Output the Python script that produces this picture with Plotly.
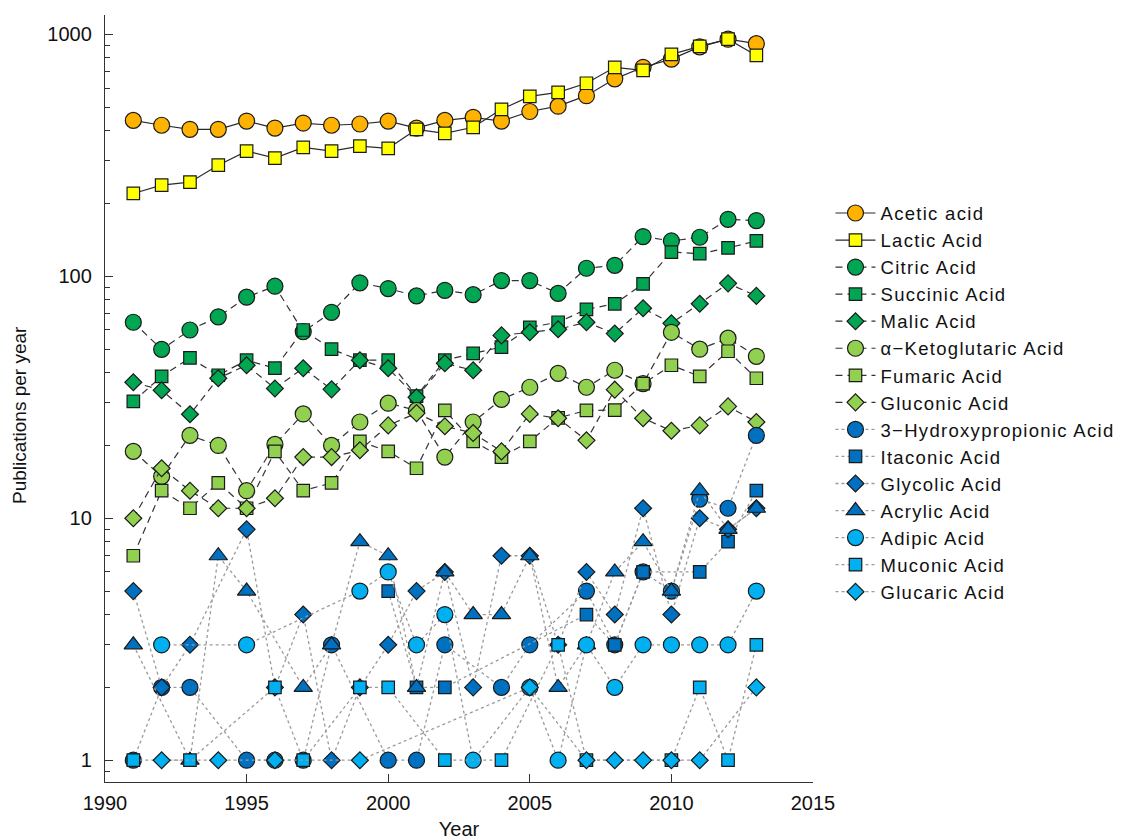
import plotly.graph_objects as go

years = list(range(1991, 2014))

# Publications per year (None = no publications that year)
acetic = [441, 421, 405, 405, 438, 410, 430, 421, 426, 438, 410, 441, 454, 438, 480, 505, 558, 655, 731, 790, 888, 955, 915]
lactic = [220, 238, 245, 288, 329, 308, 341, 329, 345, 338, 405, 390, 413, 490, 554, 576, 628, 731, 710, 827, 892, 955, 818]
citric = [64.6, 49.9, 60, 68, 82, 91, 59, 71, 94, 89, 83, 87.5, 84, 96, 96, 85, 108, 111, 146, 140, 145, 172, 170]
succinic = [30.4, 38.6, 46, 39, 45, 41.7, 60, 50, 45, 45, 32, 45, 48, 51, 61.5, 64.6, 73, 77, 93, 126, 124, 131, 140]
malic = [36.5, 33.8, 26.9, 37.9, 42.9, 34.4, 41.7, 34.1, 45, 41.7, 31.6, 43.7, 40.9, 57, 58.7, 60.4, 64.6, 58, 73.8, 64, 77, 93.5, 83]
ketoglutaric = [18.9, 14.9, 22, 20, 13, 20.2, 27, 20, 25, 29.9, 27.9, 17.9, 25, 31, 34.8, 39.7, 34.8, 40.9, 36, 58.7, 50, 55.5, 46.7]
fumaric = [7, 13, 11, 14, 11, 18.9, 13, 14, 20.8, 18.9, 16.1, 27.9, 20.8, 17.9, 20.8, 26, 27.9, 28, 36, 42.9, 38.6, 49, 37.9]
gluconic = [10, 16.1, 13, 11, 11, 12.1, 17.9, 17.9, 19.1, 24.2, 27.2, 24, 22.5, 18.9, 27, 25.9, 21, 34, 25.9, 23, 24.2, 29, 25]
hydroxypropionic = [1, 2, 2, None, 1, 1, 1, 3, None, 1, 1, 3, None, 2, 3, None, 5, 3, 6, 5, 12, 11, 22]
itaconic = [None, None, None, None, None, None, None, None, None, 5, 2, 2, None, None, None, None, 4, 3, 6, None, 6, 8, 13]
glycolic = [5, 2, 3, None, 9, 2, 4, 1, 2, 3, 5, 6, 2, 7, 7, 3, 6, 4, 11, 4, 10, 9, 11]
acrylic = [3, None, 1, 7, 5, None, 2, 3, 8, 7, 2, 6, 4, 4, 7, 2, 3, 6, 8, 5, 13, 9, 11]
adipic = [None, 3, None, None, 3, None, None, None, 5, 6, 3, 4, 1, None, 2, 1, 3, 2, 3, 3, 3, 3, 5]
muconic = [1, None, 1, None, None, 2, 1, None, 2, 2, None, 1, None, 1, None, 3, 1, None, None, 1, 2, 1, 3]
glucaric = [None, 1, None, 1, None, 1, None, None, 1, None, None, None, None, None, 2, None, 1, 1, 1, 1, 1, None, 2]

ORANGE = "#FFB300"
YELLOW = "#FFFF00"
GREEN = "#00A651"
LIGHT_GREEN = "#92D050"
BLUE = "#0070C0"
LIGHT_BLUE = "#00B0F0"

SOLID = dict(color="#2b2b2b", width=1.2, dash="solid")
DASHED = dict(color="#333333", width=1.2, dash="7px,5px")
DOTTED = dict(color="#9a9a9a", width=1.3, dash="dot")

series = [
    ("Acetic acid", acetic, "circle", ORANGE, SOLID),
    ("Lactic Acid", lactic, "square", YELLOW, SOLID),
    ("Citric Acid", citric, "circle", GREEN, DASHED),
    ("Succinic Acid", succinic, "square", GREEN, DASHED),
    ("Malic Acid", malic, "diamond", GREEN, DASHED),
    ("\u03b1\u2212Ketoglutaric Acid", ketoglutaric, "circle", LIGHT_GREEN, DASHED),
    ("Fumaric Acid", fumaric, "square", LIGHT_GREEN, DASHED),
    ("Gluconic Acid", gluconic, "diamond", LIGHT_GREEN, DASHED),
    ("3\u2212Hydroxypropionic Acid", hydroxypropionic, "circle", BLUE, DOTTED),
    ("Itaconic Acid", itaconic, "square", BLUE, DOTTED),
    ("Glycolic Acid", glycolic, "diamond", BLUE, DOTTED),
    ("Acrylic Acid", acrylic, "triangle-up", BLUE, DOTTED),
    ("Adipic Acid", adipic, "circle", LIGHT_BLUE, DOTTED),
    ("Muconic Acid", muconic, "square", LIGHT_BLUE, DOTTED),
    ("Glucaric Acid", glucaric, "diamond", LIGHT_BLUE, DOTTED),
]

SIZES = {"circle": 16, "square": 12.5, "diamond": 13, "triangle-up": 16}

fig = go.Figure()
for name, values, symbol, color, line in series:
    xs = [y for y, v in zip(years, values) if v is not None]
    ys = [v for v in values if v is not None]
    fig.add_trace(go.Scatter(
        x=xs, y=ys, mode="lines+markers",
        name='<span style="letter-spacing:1.3px">' + name + "</span>",
        line=line,
        marker=dict(symbol=symbol, size=SIZES[symbol], color=color,
                    line=dict(color="#1a1a1a", width=1.2)),
    ))

FONT = "Liberation Sans, Arial, sans-serif"

minor_vals = [m * 10 ** k for k in range(-1, 4) for m in range(2, 10)] + [0.9]

fig.update_layout(
    width=1126, height=840,
    margin=dict(l=105, r=313, t=15, b=58, autoexpand=False),
    paper_bgcolor="white", plot_bgcolor="white",
    font=dict(family=FONT, size=20, color="#111111"),
    showlegend=True,
    legend=dict(
        x=1.0247, y=0.766, xanchor="left", yanchor="top",
        font=dict(family=FONT, size=18.5, color="#111111"),
        bgcolor="rgba(0,0,0,0)", borderwidth=0,
        traceorder="normal", tracegroupgap=0,
        itemwidth=40,
    ),
    xaxis=dict(
        range=[1990, 2015], tickmode="array",
        tickvals=[1990, 1995, 2000, 2005, 2010, 2015],
        ticks="inside", ticklen=8, tickwidth=1.2, tickcolor="#333333",
        showline=True, linecolor="#333333", linewidth=1.3,
        showgrid=False, zeroline=False, automargin=False,
        tickfont=dict(size=20), ticklabelstandoff=3,
        title=dict(text="Year", font=dict(size=20), standoff=8),
    ),
    yaxis=dict(
        type="log", range=[-0.09, 3.08],
        tickmode="array", tickvals=[1, 10, 100, 1000],
        ticktext=["1", "10", "100", "1000"],
        ticks="inside", ticklen=8, tickwidth=1.2, tickcolor="#333333",
        minor=dict(tickmode="array", tickvals=minor_vals, ticks="inside",
                   ticklen=5, tickwidth=1, tickcolor="#333333", showgrid=False),
        showline=True, linecolor="#333333", linewidth=1.3,
        showgrid=False, zeroline=False, automargin=False,
        tickfont=dict(size=20), ticklabelstandoff=8,
    ),
    annotations=[dict(
        text="Publications per year", textangle=-90,
        xref="paper", yref="paper", x=-0.12, y=0.4785,
        xanchor="center", yanchor="middle", showarrow=False,
        font=dict(family=FONT, size=19, color="#111111"),
    )],
)

fig.write_html("out.html")
